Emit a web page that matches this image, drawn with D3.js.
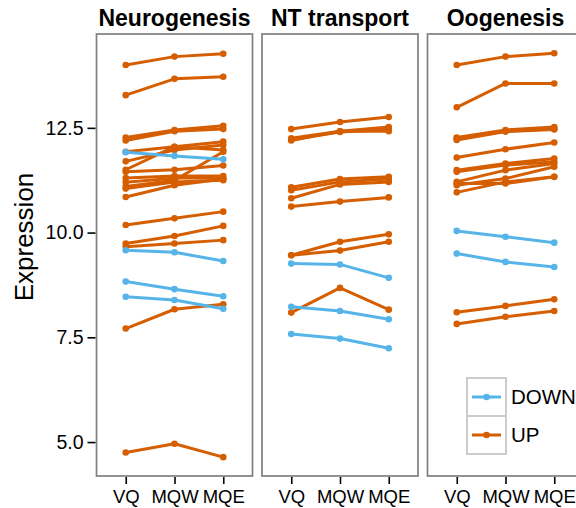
<!DOCTYPE html>
<html>
<head>
<meta charset="utf-8">
<script src="https://cdn.jsdelivr.net/npm/d3@7"></script>
<style>
  body { margin: 0; background: #fff; }
  text { font-family: "Liberation Sans", Arial, Helvetica, sans-serif; }
</style>
</head>
<body>
<div id="chart"></div>
<script>
// categories / facets
const levels = ["VQ", "MQW", "MQE"];
const panels = ["Neurogenesis", "NT transport", "Oogenesis"];
const yTicks = [5.0, 7.5, 10.0, 12.5];
const directions = ["DOWN", "UP"];

// values per gene: [VQ, MQW, MQE]
const neuroUp = [
    [14.00, 14.20, 14.27],
    [13.28, 13.67, 13.72],
    [12.27, 12.45, 12.55],
    [12.20, 12.42, 12.47],
    [11.93, 12.05, 12.17],
    [11.70, 11.97, 12.09],
    [11.50, 12.05, 11.97],
    [11.45, 11.50, 11.60],
    [11.30, 11.35, 11.35],
    [11.20, 11.30, 11.30],
    [11.10, 11.25, 11.93],
    [11.05, 11.21, 11.25],
    [10.85, 11.13, 11.28],
    [10.18, 10.34, 10.50],
    [9.74, 9.92, 10.16],
    [9.66, 9.74, 9.82],
    [7.71, 8.17, 8.29],
    [4.75, 4.96, 4.64]
];
const neuroDown = [
    [11.92, 11.83, 11.75],
    [9.58, 9.53, 9.32],
    [8.83, 8.65, 8.48],
    [8.47, 8.39, 8.18]
];
const ntUp = [
    [12.47, 12.64, 12.76],
    [12.25, 12.42, 12.52],
    [12.22, 12.40, 12.46],
    [12.20, 12.42, 12.42],
    [11.08, 11.28, 11.33],
    [11.01, 11.21, 11.28],
    [10.82, 11.15, 11.21],
    [10.62, 10.74, 10.84],
    [9.46, 9.78, 9.96],
    [9.46, 9.57, 9.78],
    [8.09, 8.68, 8.16]
];
const ntDown = [
    [9.26, 9.24, 8.92],
    [8.23, 8.13, 7.93],
    [7.58, 7.47, 7.24]
];
const oogUp = [
    [14.00, 14.20, 14.28],
    [12.99, 13.56, 13.56],
    [12.27, 12.45, 12.52],
    [12.24, 12.42, 12.48],
    [12.21, 12.41, 12.46],
    [11.79, 11.99, 12.15],
    [11.49, 11.65, 11.77],
    [11.45, 11.61, 11.69],
    [11.21, 11.49, 11.65],
    [11.13, 11.29, 11.57],
    [10.96, 11.21, 11.33],
    [11.17, 11.17, 11.33],
    [8.10, 8.25, 8.41],
    [7.82, 7.99, 8.13]
];
const oogDown = [
    [10.04, 9.90, 9.76],
    [9.50, 9.30, 9.18]
];

const upByPanel = [neuroUp, ntUp, oogUp];
const downByPanel = [neuroDown, ntDown, oogDown];

// dims
const width = 576, height = 508;
const svg = d3.select("#chart").append("svg")
    .attr("width", width)
    .attr("height", height);

const panelTop = 34, panelBottom = 476;
const panelW = 156, panelGap = 9.5, firstLeft = 96.5;

const color = d3.scaleOrdinal().domain(directions).range(["#56B4E9", "#D55E00"]);

const yScale = d3.scaleLinear()
    .domain([4.19, 14.74])
    .range([panelBottom, panelTop]);

const line = function(xScale) {
    return d3.line()
        .x(function(d, i) { return xScale(levels[i]); })
        .y(function(d) { return yScale(d); });
};

panels.forEach(function(name, p) {
    const left = firstLeft + p * (panelW + panelGap);
    const xScale = d3.scalePoint()
        .domain(levels)
        .range([left, left + panelW])
        .padding(0.6);

    const g = svg.append("g");

    g.append("rect")
        .attr("x", left)
        .attr("y", panelTop)
        .attr("width", panelW)
        .attr("height", panelBottom - panelTop)
        .attr("fill", "#fff");

    const series = upByPanel[p].map(function(v) { return {dir: "UP", v: v}; })
        .concat(downByPanel[p].map(function(v) { return {dir: "DOWN", v: v}; }));

    series.forEach(function(s) {
        g.append("path")
            .attr("d", line(xScale)(s.v))
            .attr("fill", "none")
            .attr("stroke", color(s.dir))
            .attr("stroke-width", 3)
            .attr("stroke-linejoin", "round");
        g.selectAll(null)
            .data(s.v)
            .enter()
            .append("circle")
                .attr("cx", function(d, i) { return xScale(levels[i]); })
                .attr("cy", function(d) { return yScale(d); })
                .attr("r", 3.3)
                .attr("fill", color(s.dir));
    });

    //panel border
    g.append("rect")
        .attr("x", left)
        .attr("y", panelTop)
        .attr("width", panelW)
        .attr("height", panelBottom - panelTop)
        .attr("fill", "none")
        .attr("stroke", "#7f7f7f")
        .attr("stroke-width", 1.7);

    //strip title
    g.append("text")
        .attr("x", left + panelW / 2)
        .attr("y", 26)
        .attr("text-anchor", "middle")
        .attr("font-weight", "bold")
        .attr("font-size", "23px")
        .text(name);

    //x axis
    const xAxis = svg.append("g")
        .attr("class", "axis")
        .attr("transform", `translate(0,${panelBottom + 1})`)
        .call(d3.axisBottom(xScale).tickSize(7).tickPadding(6));
    xAxis.select(".domain").remove();
    xAxis.selectAll("line").attr("stroke", "#000").attr("stroke-width", 1.6);
    xAxis.selectAll("text")
        .attr("fill", "#000")
        .attr("font-size", "18.5px")
        .style("font-family", "'Liberation Sans', Arial, sans-serif");
});

//y axis
const yAxis = svg.append("g")
    .attr("class", "axis")
    .attr("transform", `translate(${firstLeft - 1},0)`)
    .call(d3.axisLeft(yScale).tickValues(yTicks).tickFormat(d3.format(".1f")).tickSize(8).tickPadding(4));
yAxis.select(".domain").remove();
yAxis.selectAll("line").attr("stroke", "#000").attr("stroke-width", 1.6);
yAxis.selectAll("text")
    .attr("fill", "#000")
    .attr("font-size", "19.5px")
    .style("font-family", "'Liberation Sans', Arial, sans-serif");

//axis label
svg.append("text")
    .attr("transform", "rotate(-90)")
    .attr("x", -237)
    .attr("y", 33)
    .attr("text-anchor", "middle")
    .attr("font-size", "26px")
    .text("Expression");

//legend
const legend = svg.append("g").attr("transform", "translate(467,378)");
const keyW = 39, keyH = 38;
directions.forEach(function(d, i) {
    const k = legend.append("g").attr("transform", `translate(0,${i * keyH})`);
    k.append("rect")
        .attr("width", keyW)
        .attr("height", keyH)
        .attr("fill", "#fff")
        .attr("stroke", "#cccccc")
        .attr("stroke-width", 2);
    k.append("line")
        .attr("x1", 5).attr("x2", keyW - 5)
        .attr("y1", keyH / 2).attr("y2", keyH / 2)
        .attr("stroke", color(d))
        .attr("stroke-width", 3);
    k.append("circle")
        .attr("cx", keyW / 2)
        .attr("cy", keyH / 2)
        .attr("r", 3.3)
        .attr("fill", color(d));
    k.append("text")
        .attr("x", keyW + 5)
        .attr("y", keyH / 2 + 7)
        .attr("font-size", "20.5px")
        .text(d);
});
</script>
</body>
</html>
